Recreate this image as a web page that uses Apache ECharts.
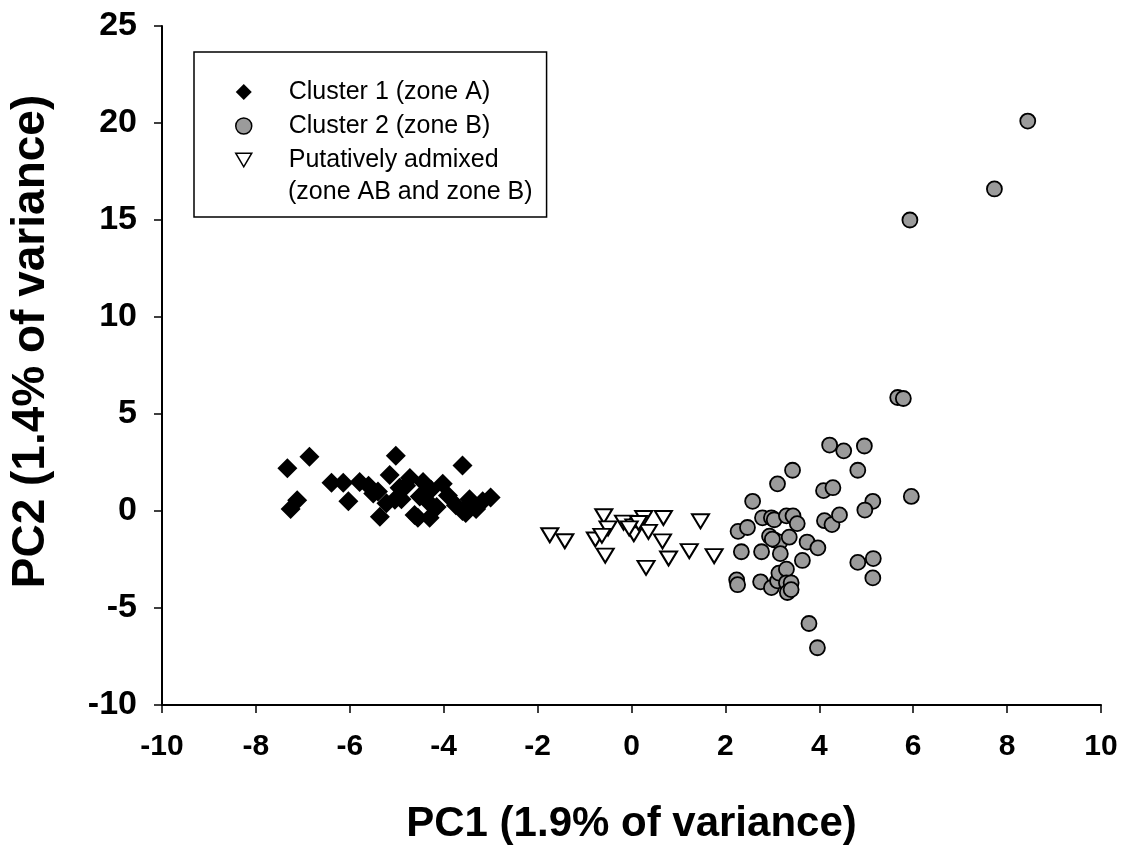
<!DOCTYPE html>
<html>
<head>
<meta charset="utf-8">
<script src="https://cdn.jsdelivr.net/npm/echarts@6/dist/echarts.min.js"></script>
<style>
  html, body { margin: 0; padding: 0; background: #ffffff; }
  #chart { width: 1127px; height: 850px; }
</style>
</head>
<body>
<div id="chart"></div>
<script>
// PCA scores: [PC1, PC2]
const cluster1 = [
  [-7.33, 2.2], [-6.86, 2.8], [-7.26, 0.1], [-7.12, 0.55], [-5.02, 2.85], [-3.6, 2.35],
  [-6.39, 1.45], [-6.14, 1.45], [-6.03, 0.5], [-5.79, 1.5], [-5.6, 1.3], [-5.4, 1.0],
  [-5.36, -0.3], [-5.22, 0.4], [-5.15, 1.85], [-5.04, 0.58], [-4.94, 1.2], [-4.9, 0.6],
  [-4.8, 1.3], [-4.72, 1.7], [-4.62, -0.2], [-4.55, -0.35], [-4.51, 0.75], [-4.44, 1.5],
  [-4.3, -0.35], [-4.3, 0.4], [-4.27, 1.1], [-4.15, 0.2], [-4.02, 1.4], [-3.91, 0.8],
  [-3.74, 0.3], [-3.6, 0.0], [-3.53, -0.1], [-3.45, 0.6], [-3.31, 0.1], [-3.17, 0.5],
  [-3.0, 0.7], [-5.5, 0.9]
];

const cluster2 = [
  [8.44, 20.1], [7.73, 16.6], [5.93, 15.0], [5.67, 5.85], [5.79, 5.8],
  [4.22, 3.4], [4.52, 3.1], [4.96, 3.35], [3.43, 2.1], [4.82, 2.1],
  [3.11, 1.4], [4.09, 1.05], [4.29, 1.2], [2.58, 0.5], [5.14, 0.5],
  [4.97, 0.05], [5.96, 0.75], [2.79, -0.35], [2.98, -0.35], [3.04, -0.45],
  [3.3, -0.25], [3.44, -0.25], [3.53, -0.65], [2.27, -1.05], [2.47, -0.85],
  [4.11, -0.5], [4.27, -0.7], [4.43, -0.2], [2.94, -1.3], [3.05, -1.5],
  [3.16, -1.6], [3.36, -1.35], [3.74, -1.6], [3.97, -1.9], [2.34, -2.1],
  [2.77, -2.1], [3.17, -2.2], [3.64, -2.55], [4.82, -2.65], [5.15, -2.45],
  [5.14, -3.45], [2.24, -3.55], [2.26, -3.8], [2.75, -3.65], [2.98, -3.95],
  [3.11, -3.6], [3.14, -3.2], [3.3, -3.0], [3.3, -3.7], [3.4, -3.7],
  [3.32, -4.2], [3.4, -4.05], [3.78, -5.8], [3.96, -7.05], [3.0, -1.45]
];

const admixed = [
  [-1.74, -1.25], [-1.42, -1.56], [-0.59, -0.27], [-0.5, -0.9], [-0.77, -1.47],
  [-0.63, -1.28], [-0.56, -2.3], [-0.17, -0.6], [0.05, -0.79], [0.05, -1.2],
  [0.26, -0.36], [0.36, -1.08], [0.68, -0.36], [0.66, -1.57], [0.79, -2.45],
  [0.31, -2.93], [1.23, -2.07], [1.47, -0.53], [1.76, -2.33], [0.15, -0.62],
  [-0.05, -0.9]
];

const seriesNames = ['Cluster 1 (zone A)', 'Cluster 2 (zone B)', 'Putatively admixed'];
const admixedSecondLine = '(zone AB and zone B)';
const xTitle = 'PC1 (1.9% of variance)';
const yTitle = 'PC2 (1.4% of variance)';
const xRange = { min: -10, max: 10, interval: 2 };
const yRange = { min: -10, max: 25, interval: 5 };

const FONT = '"Liberation Sans", Arial, Helvetica, sans-serif';
const LEGEND_FONT_SIZE = 25;
// legend glyphs: square diamond and downward-pointing triangle
const ICON_DIAMOND = 'path://M0,10L10,0L20,10L10,20Z';
const ICON_TRIANGLE_DOWN = 'path://M0,0L20,0L10,17Z';

const chart = echarts.init(document.getElementById('chart'), null, { renderer: 'canvas' });

chart.setOption({
  backgroundColor: '#ffffff',
  animation: false,
  grid: { left: 158, right: 26, top: 26, bottom: 143, containLabel: false },
  xAxis: {
    type: 'value',
    min: xRange.min, max: xRange.max, interval: xRange.interval,
    name: xTitle,
    nameLocation: 'middle',
    nameGap: 98,
    nameTextStyle: { fontFamily: FONT, fontWeight: 'bold', fontSize: 42, color: '#000' },
    axisLine: { show: true, onZero: false, lineStyle: { color: '#000', width: 2 } },
    axisTick: { show: true, length: 8, lineStyle: { color: '#000', width: 1.5 } },
    axisLabel: { margin: 27, fontFamily: FONT, fontWeight: 'bold', fontSize: 30, color: '#000' },
    splitLine: { show: false }
  },
  yAxis: {
    type: 'value',
    min: yRange.min, max: yRange.max, interval: yRange.interval,
    name: yTitle,
    nameLocation: 'middle',
    nameGap: 108,
    nameTextStyle: { fontFamily: FONT, fontWeight: 'bold', fontSize: 46, color: '#000', padding: [0, 0, 0, 48] },
    axisLine: { show: true, onZero: false, lineStyle: { color: '#000', width: 2 } },
    axisTick: { show: true, length: 8, lineStyle: { color: '#000', width: 1.5 } },
    axisLabel: { margin: 25, fontFamily: FONT, fontWeight: 'bold', fontSize: 34, color: '#000' },
    splitLine: { show: false }
  },
  legend: {
    orient: 'vertical',
    left: 194,
    top: 52,
    padding: [25, 48, 42, 41],
    itemWidth: 16,
    itemHeight: 16,
    itemGap: 4,
    borderColor: '#000',
    borderWidth: 1.5,
    borderRadius: 0,
    selectedMode: false,
    textStyle: { fontFamily: FONT, fontSize: LEGEND_FONT_SIZE, color: '#000', lineHeight: 30, padding: [0, 0, 0, 32] },
    data: [
      { name: seriesNames[0], icon: ICON_DIAMOND },
      { name: seriesNames[1], icon: 'circle', itemStyle: { borderWidth: 1.5 } },
      { name: seriesNames[2], icon: ICON_TRIANGLE_DOWN, itemStyle: { borderWidth: 1.5 } }
    ]
  },
  graphic: [{
    type: 'text',
    left: 288,
    top: 180,
    style: { text: admixedSecondLine, font: LEGEND_FONT_SIZE + 'px ' + FONT, fill: '#000' }
  }],
  series: [
    {
      name: seriesNames[0],
      type: 'scatter',
      data: cluster1,
      symbol: 'diamond',
      symbolSize: [20, 20],
      itemStyle: { color: '#000000', opacity: 1 }
    },
    {
      name: seriesNames[1],
      type: 'scatter',
      data: cluster2,
      symbol: 'circle',
      symbolSize: 15,
      itemStyle: { color: '#9b9b9b', borderColor: '#000', borderWidth: 1.8, opacity: 1 }
    },
    {
      name: seriesNames[2],
      type: 'scatter',
      data: admixed,
      symbol: 'triangle',
      symbolSize: [17, 14],
      symbolRotate: 180,
      itemStyle: { color: '#ffffff', borderColor: '#000', borderWidth: 2, opacity: 1 }
    }
  ]
});
</script>
</body>
</html>
